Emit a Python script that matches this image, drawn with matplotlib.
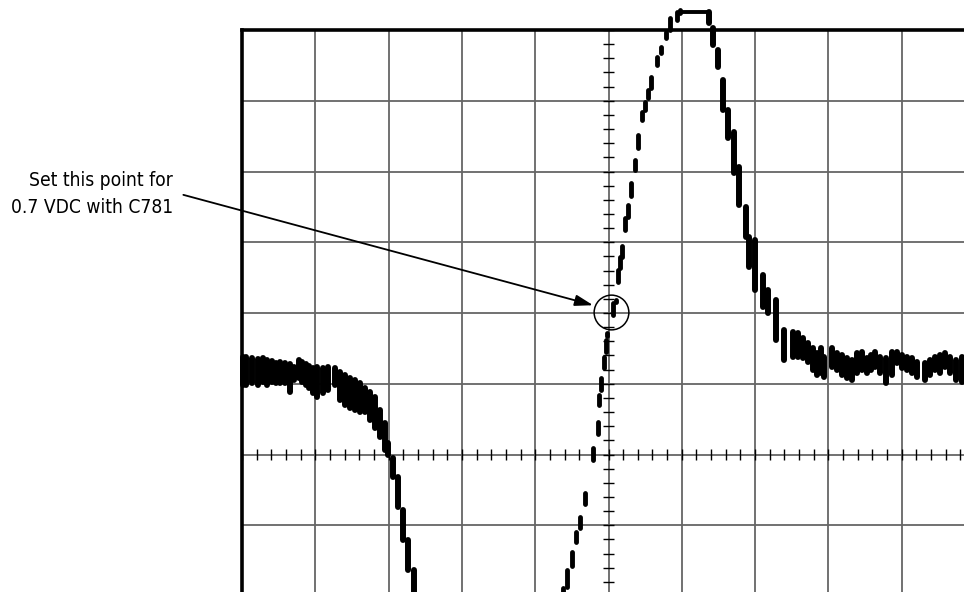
import matplotlib
matplotlib.use("Agg")
import matplotlib.pyplot as plt
from matplotlib import font_manager as fm
import numpy as np

# ---- data (screen divisions: x from graticule centre, y from ticked horizontal axis) ----
# noisy / solid trace: vertical bars (x, top, bottom)
band_x = [-4.98, -4.95, -4.86, -4.78, -4.71, -4.66, -4.59, -4.53, -4.48, -4.41, -4.35, -4.29,
          -4.22, -4.18, -4.13, -4.09, -4.03, -3.98, -3.89, -3.83, -3.73, -3.66, -3.59, -3.53,
          -3.46, -3.39, -3.32, -3.25, -3.19, -3.12, -3.05, -3.01, -2.94, -2.87, -2.80, -2.74,
          -2.65,
          1.37, 1.43, 1.49, 1.56, 1.63, 1.71, 1.78, 1.88, 1.92, 2.00, 2.11, 2.18, 2.29,
          2.39, 2.52, 2.59, 2.65, 2.72, 2.79, 2.84, 2.90, 2.94, 3.05, 3.12, 3.19, 3.25,
          3.32, 3.39, 3.46, 3.53, 3.58, 3.64, 3.70, 3.79, 3.87, 3.94, 4.00, 4.07, 4.14,
          4.21, 4.32, 4.38, 4.45, 4.52, 4.59, 4.66, 4.74, 4.82]
band_top = [1.38, 1.38, 1.36, 1.35, 1.36, 1.34, 1.32, 1.29, 1.31, 1.29, 1.28, 1.24,
            1.34, 1.31, 1.28, 1.25, 1.22, 1.24, 1.22, 1.24, 1.22, 1.17, 1.12, 1.08,
            1.05, 1.01, 0.94, 0.88, 0.81, 0.63, 0.45, 0.16, -0.05, -0.32, -0.78, -1.21,
            -1.63,
            6.26, 6.03, 5.72, 5.29, 4.87, 4.56, 4.06, 3.50, 3.07, 3.03, 2.54, 2.33, 2.18,
            1.76, 1.73, 1.72, 1.65, 1.58, 1.51, 1.43, 1.51, 1.38, 1.51, 1.43, 1.41, 1.36,
            1.34, 1.43, 1.45, 1.36, 1.41, 1.45, 1.38, 1.36, 1.45, 1.45, 1.41, 1.38, 1.36,
            1.31, 1.29, 1.34, 1.38, 1.41, 1.43, 1.38, 1.34, 1.38]
band_bot = [0.98, 0.98, 1.01, 0.98, 1.02, 0.98, 1.02, 1.01, 1.01, 1.01, 0.88, 1.05,
            1.08, 1.02, 0.98, 0.94, 0.87, 0.81, 0.87, 0.91, 0.98, 0.77, 0.70, 0.66,
            0.63, 0.60, 0.60, 0.49, 0.37, 0.25, 0.06, -0.01, -0.32, -0.74, -1.21, -1.63,
            -2.05,
            6.10, 5.79, 5.47, 4.87, 4.47, 3.98, 3.53, 3.07, 2.65, 2.33, 2.08, 2.00, 1.62,
            1.34, 1.38, 1.38, 1.36, 1.31, 1.19, 1.12, 1.15, 1.10, 1.24, 1.19, 1.12, 1.08,
            1.05, 1.15, 1.19, 1.15, 1.19, 1.24, 1.15, 1.01, 1.12, 1.29, 1.22, 1.19, 1.15,
            1.10, 1.05, 1.12, 1.19, 1.15, 1.24, 1.15, 1.05, 1.02]

# sparse (dashed-looking) rising edge
dash_x = [-0.62, -0.57, -0.50, -0.44, -0.39, -0.32, -0.21, -0.14, -0.13, -0.10, -0.06,
          -0.03, -0.02, 0.06, 0.10, 0.13, 0.16, 0.18, 0.23, 0.27, 0.31, 0.36, 0.40,
          0.46, 0.50, 0.54, 0.58, 0.66, 0.72, 0.78, 0.84, 0.93, 0.98]
dash_top = [-1.89, -1.63, -1.38, -1.10, -0.88, -0.54, 0.09, 0.46, 0.84, 1.08, 1.38,
            1.62, 1.72, 2.14, 2.18, 2.61, 2.79, 2.95, 3.34, 3.53, 3.84, 4.16, 4.52,
            4.84, 4.98, 5.15, 5.34, 5.62, 5.76, 5.97, 6.17, 6.25, 6.28]
dash_bot = [-1.94, -1.87, -1.58, -1.24, -1.04, -0.70, -0.08, 0.29, 0.70, 0.91, 1.22,
            1.45, 1.67, 1.97, 2.16, 2.44, 2.63, 2.79, 3.17, 3.36, 3.65, 4.02, 4.33,
            4.73, 4.87, 5.04, 5.18, 5.51, 5.67, 5.89, 6.00, 6.14, 6.24]

# clipped flat top of the pulse
top_x = [0.98, 1.37]
top_y = [6.26, 6.26]

# set point (circled) and annotation
set_point = (0.03, 2.01)
arrow_tip = (-0.21, 2.11)
arrow_tail = (-5.80, 3.67)
label = "Set this point for\n0.7 VDC with C781"

# ---- pick a condensed face if one exists ----
font_kw = dict(family=["Liberation Sans", "DejaVu Sans"])
narrow = [f for f in fm.fontManager.ttflist
          if ("Narrow" in f.name or "Condensed" in f.name or "Narrow" in f.fname
              or "Condensed" in f.fname) and f.style == "normal"
          and f.weight in (400, "normal", "regular")]
pref = [f for f in narrow if "Liberation" in f.name] or \
       [f for f in narrow if "DejaVu Sans" in f.name and "Mono" not in f.name] or narrow
if pref:
    font_kw = dict(fontproperties=fm.FontProperties(fname=pref[0].fname))

# ---- figure ----
W, H = 964, 592
fig = plt.figure(figsize=(W / 100, H / 100), dpi=100)
fig.patch.set_facecolor("white")
L, R, T, B = 242, 975, 30, 596
ax = fig.add_axes([L / W, 1 - B / H, (R - L) / W, (B - T) / H])
ax.set_xlim(-5, 5)
ax.set_ylim(-2, 6)
ax.set_xticks([])
ax.set_yticks([])
for s in ax.spines.values():
    s.set_linewidth(2.6)
    s.set_color("black")
    s.set_zorder(5)

grid_col = "#666666"
for gx in range(-4, 5):
    ax.axvline(gx, color=grid_col, lw=1.3, zorder=1)
for gy in range(-1, 6):
    ax.axhline(gy, color=grid_col, lw=1.3, zorder=1)

# minor ticks on centre axes
mt = np.arange(-5, 5.001, 0.2)
ax.vlines(mt, -0.08, 0.08, color="black", lw=1.0, zorder=2)
mty = np.arange(-2, 6.001, 0.2)
ax.hlines(mty, -0.077, 0.077, color="black", lw=1.0, zorder=2)

# trace
lc = ax.vlines(band_x, band_bot, band_top, color="black", lw=4.3, zorder=3, clip_on=False)
lc.set_capstyle("round")
lc2 = ax.vlines(dash_x, dash_bot, dash_top, color="black", lw=3.5, zorder=3, clip_on=False)
lc2.set_capstyle("round")
ax.plot(top_x, top_y, color="black", lw=2.8, solid_capstyle="round", zorder=3, clip_on=False)

# circle and arrow
ax.plot([set_point[0]], [set_point[1]], marker="o", markersize=25, markerfacecolor="none",
        markeredgecolor="black", markeredgewidth=1.1, zorder=4)
ax.annotate("", xy=arrow_tip, xytext=arrow_tail, annotation_clip=False,
            arrowprops=dict(arrowstyle="-|>,head_length=0.55,head_width=0.17",
                            mutation_scale=20, lw=1.3, color="black",
                            shrinkA=0, shrinkB=0))

txt = fig.text(173 / W, 1 - 194 / H, label, ha="right", va="center", multialignment="right",
               linespacing=1.55, fontsize=16, color="black", **font_kw)
# fit the text block to the width it has in the reference (~163 px)
renderer = fig.canvas.get_renderer()
wpx = txt.get_window_extent(renderer).width
if wpx > 0:
    txt.set_fontsize(16 * 163.0 / wpx)

fig.savefig("out.png", dpi=100)
